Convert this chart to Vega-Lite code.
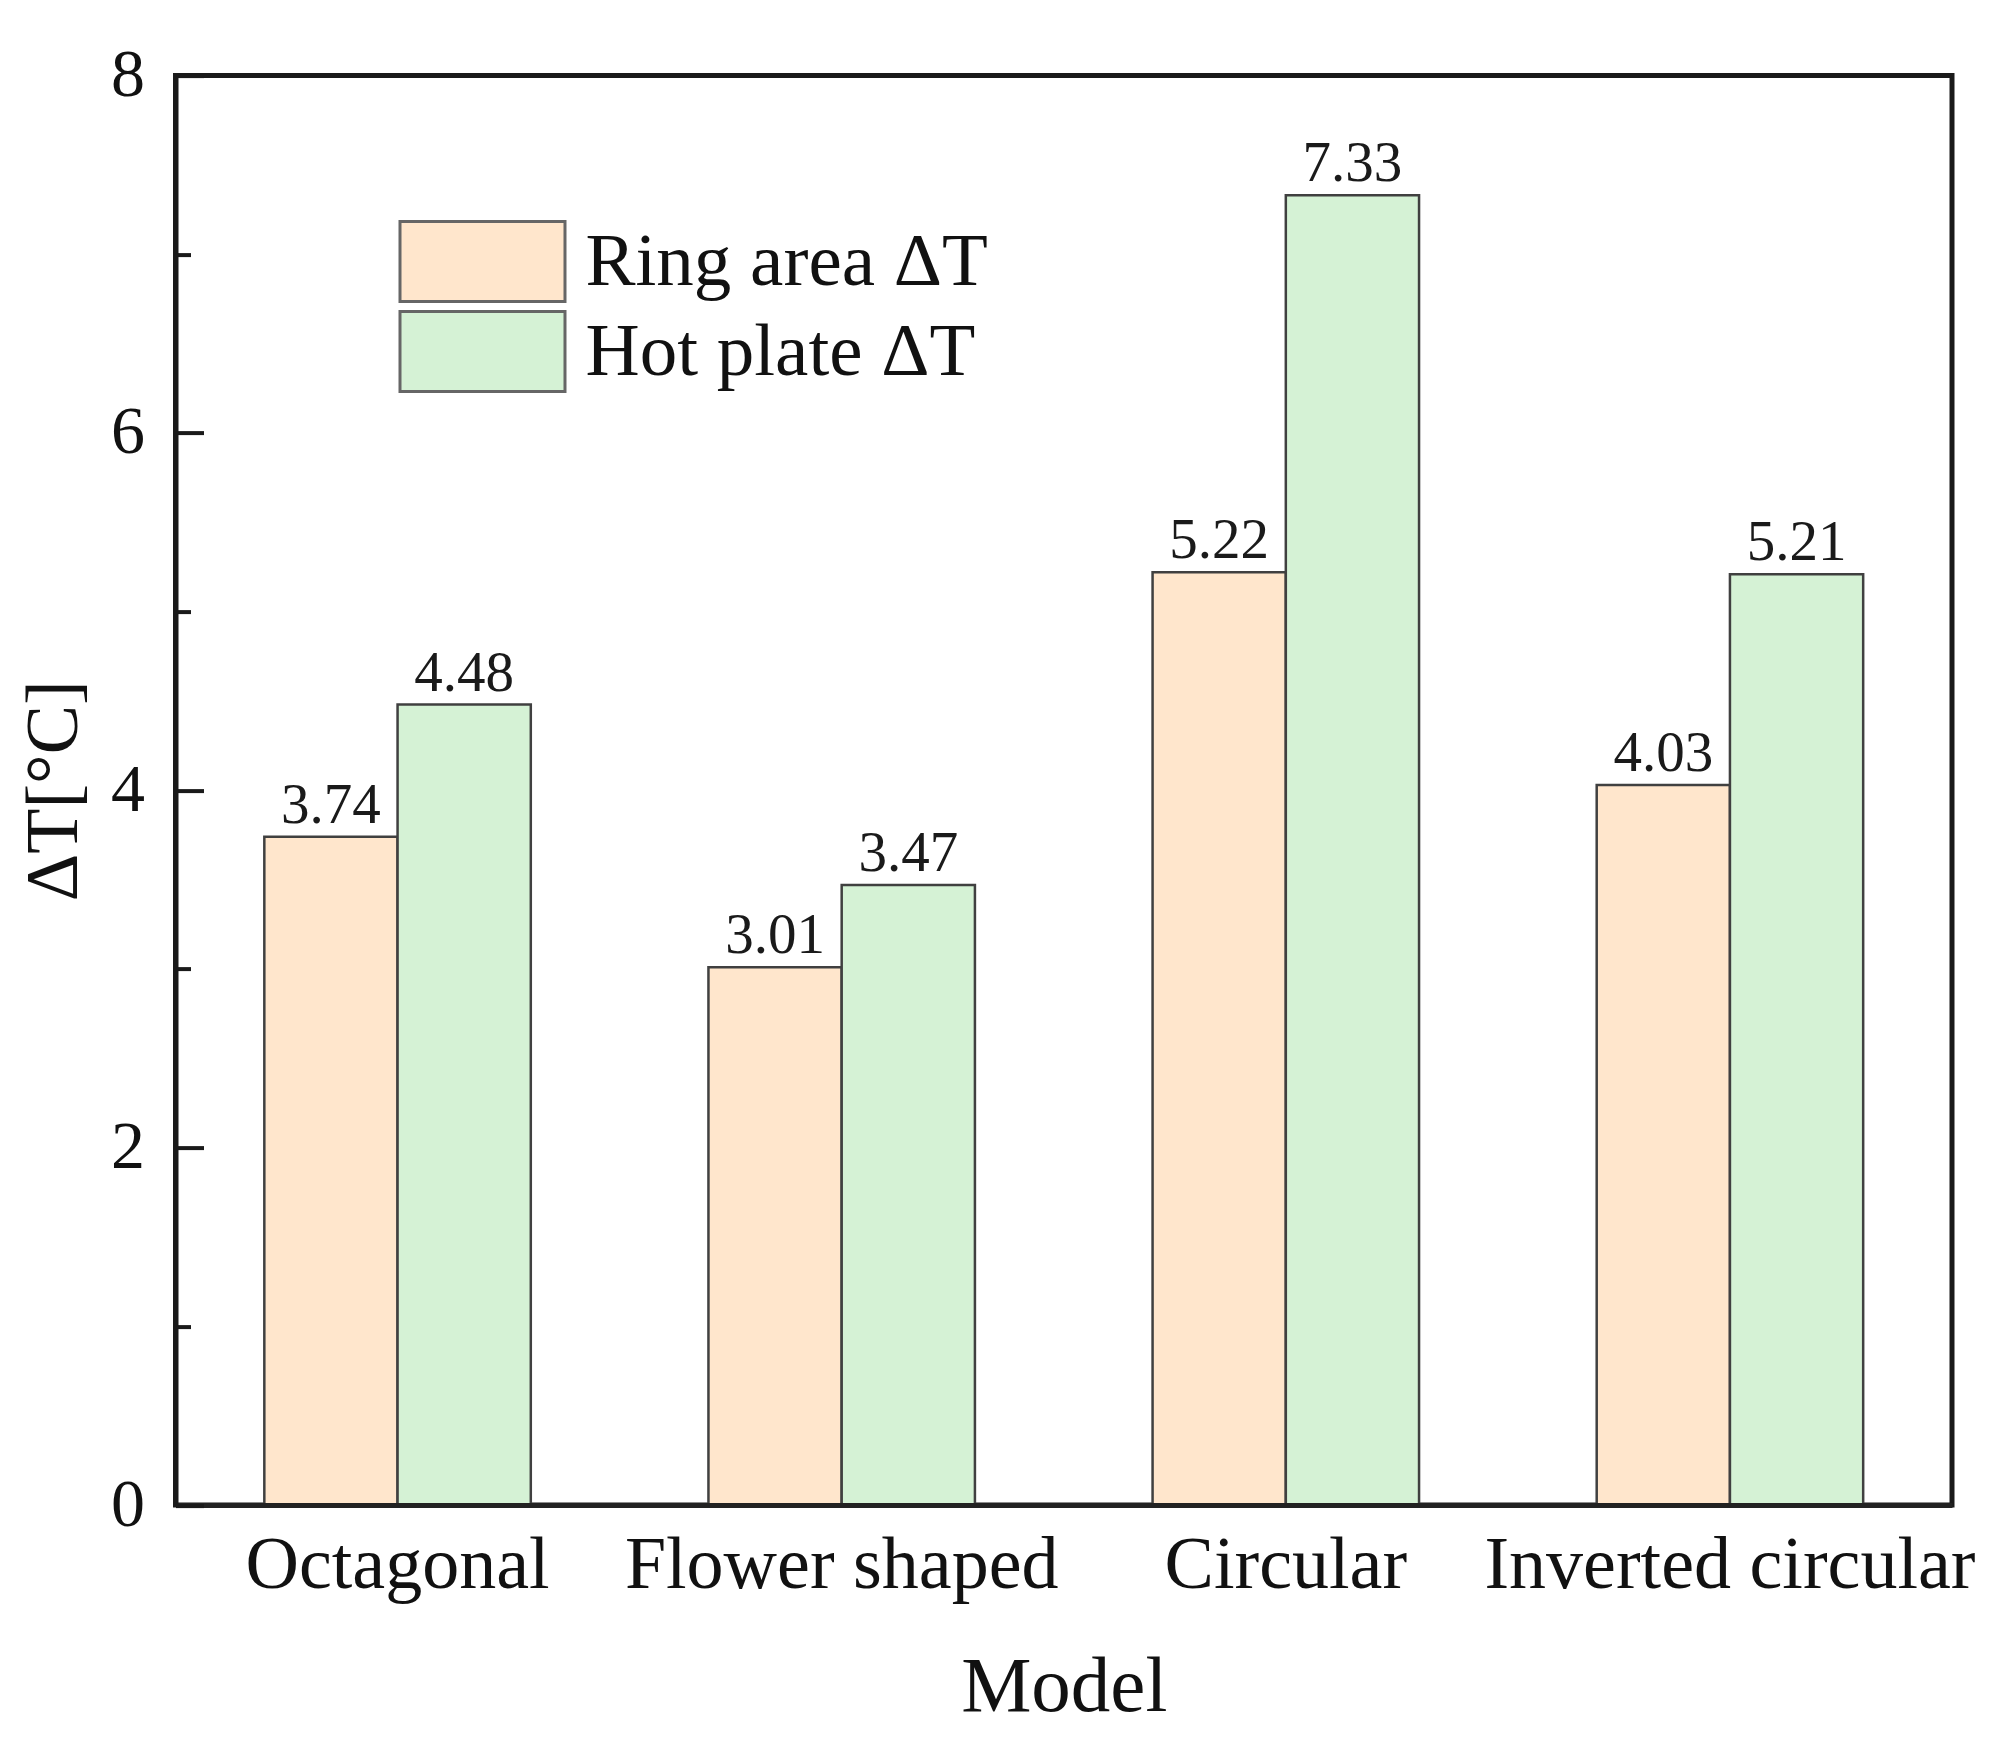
{
  "$schema": "https://vega.github.io/schema/vega-lite/v6.json",
  "autosize": "none",
  "width": 1776.5,
  "height": 1429.5,
  "padding": {"left": 175.5, "top": 75.6, "right": 46, "bottom": 235.9},
  "background": "white",
  "data": {
    "values": [
      {"model": "Octagonal", "series": "Ring area ΔT", "value": 3.74},
      {"model": "Octagonal", "series": "Hot plate ΔT", "value": 4.48},
      {"model": "Flower shaped", "series": "Ring area ΔT", "value": 3.01},
      {"model": "Flower shaped", "series": "Hot plate ΔT", "value": 3.47},
      {"model": "Circular", "series": "Ring area ΔT", "value": 5.22},
      {"model": "Circular", "series": "Hot plate ΔT", "value": 7.33},
      {"model": "Inverted circular", "series": "Ring area ΔT", "value": 4.03},
      {"model": "Inverted circular", "series": "Hot plate ΔT", "value": 5.21}
    ]
  },
  "encoding": {
    "x": {
      "field": "model",
      "type": "nominal",
      "sort": ["Octagonal", "Flower shaped", "Circular", "Inverted circular"],
      "scale": {"paddingInner": 0.4, "paddingOuter": 0.2},
      "axis": {
        "title": "Model",
        "labelAngle": 0,
        "labelFontSize": 74,
        "labelBaseline": "alphabetic",
        "labelPadding": 82,
        "labelLimit": 1000,
        "ticks": false,
        "titleFontSize": 79,
        "titlePadding": 46,
        "domainWidth": 5,
        "domainColor": "#222222",
        "zindex": 1
      }
    },
    "xOffset": {
      "field": "series",
      "type": "nominal",
      "sort": ["Ring area ΔT", "Hot plate ΔT"]
    }
  },
  "layer": [
    {
      "mark": {"type": "bar", "stroke": "#404040", "strokeWidth": 2.5},
      "encoding": {
        "y": {
          "field": "value",
          "type": "quantitative",
          "scale": {"domain": [0, 8], "nice": false},
          "axis": {
            "title": "ΔT[°C]",
            "values": [0, 2, 4, 6, 8],
            "grid": false,
            "tickSize": -28,
            "tickWidth": 4,
            "tickColor": "#1a1a1a",
            "labelPadding": 59,
            "labelFontSize": 68,
            "titleFontSize": 74,
            "titlePadding": 18,
            "domainWidth": 5,
            "domainColor": "#1a1a1a",
            "orient": "left",
            "zindex": 1
          }
        },
        "color": {
          "field": "series",
          "type": "nominal",
          "scale": {
            "domain": ["Ring area ΔT", "Hot plate ΔT"],
            "range": ["#FFE6CC", "#D5F2D5"]
          },
          "legend": {
            "title": null,
            "orient": "none",
            "legendX": 264,
            "legendY": 143,
            "padding": 0,
            "symbolType": "M-2,-0.97H2V0.97H-2Z",
            "symbolSize": 6806,
            "symbolStrokeColor": "#666666",
            "symbolStrokeWidth": 3,
            "symbolOpacity": 1,
            "labelFontSize": 75,
            "labelColor": "#111111",
            "labelOffset": 60,
            "rowPadding": -4,
            "labelLimit": 1000
          }
        }
      }
    },
    {
      "mark": {"type": "text", "baseline": "alphabetic", "dy": -14, "fontSize": 57, "color": "#1a1a1a"},
      "encoding": {
        "y": {
          "field": "value",
          "type": "quantitative",
          "scale": {"domain": [0, 8], "nice": false},
          "axis": {
            "title": null,
            "orient": "left",
            "values": [1, 3, 5, 7],
            "labels": false,
            "domain": false,
            "grid": false,
            "tickSize": -15,
            "tickWidth": 4,
            "tickColor": "#1a1a1a",
            "zindex": 1
          }
        },
        "text": {"field": "value", "type": "quantitative", "format": ".2f"}
      }
    }
  ],
  "resolve": {"axis": {"y": "independent"}},
  "config": {
    "font": "Liberation Serif",
    "view": {"stroke": "#1a1a1a", "strokeWidth": 5},
    "axis": {"labelColor": "#111111", "titleColor": "#111111", "titleFontWeight": "normal", "labelFont": "Liberation Serif", "titleFont": "Liberation Serif"},
    "legend": {"labelFont": "Liberation Serif"}
  }
}
